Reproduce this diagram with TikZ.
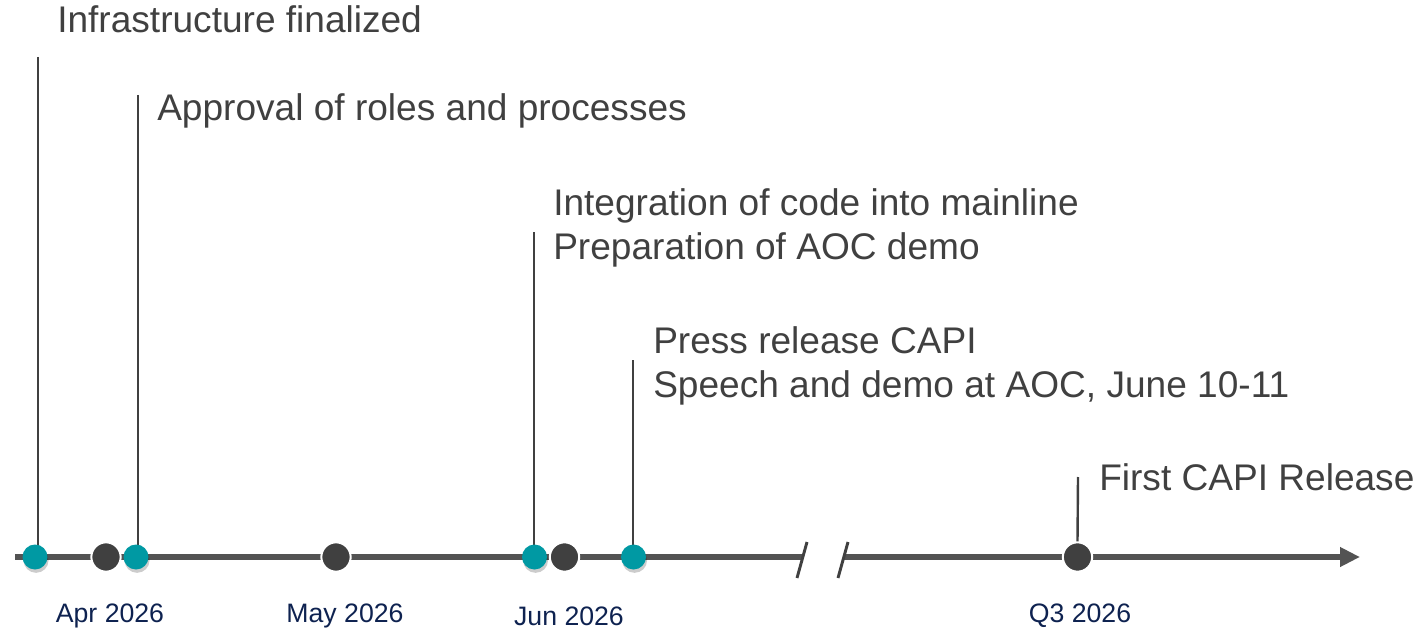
\documentclass[tikz,border=0pt]{standalone}
\usepackage{fontspec}
\setmainfont{Liberation Sans}
\usetikzlibrary{arrows.meta,shadows}
\definecolor{teal}{RGB}{0,153,163}
\definecolor{darkdot}{RGB}{64,64,64}
\definecolor{axisgray}{RGB}{83,83,83}
\definecolor{txtgray}{RGB}{64,64,64}
\definecolor{navy}{RGB}{14,34,80}
\begin{document}
\begin{tikzpicture}[x=0.75pt,y=-0.75pt,
  tealdot/.style={circle,fill=teal,inner sep=0pt,minimum size=18.75pt,
    drop shadow={shadow xshift=0.8pt,shadow yshift=-2.5pt,opacity=0.2,fill=black}},
  darkdotstyle/.style={circle,fill=darkdot,draw=white,line width=1.5pt,inner sep=0pt,minimum size=22pt},
  evlabel/.style={anchor=base west,inner sep=0pt,text=txtgray,font=\fontsize{27.8pt}{33pt}\selectfont,align=left},
  datelabel/.style={anchor=center,inner sep=0pt,text=navy,font=\fontsize{20pt}{22pt}\selectfont},
  stem/.style={draw=darkdot,line width=1.8pt},
  axisline/.style={draw=axisgray,line width=4.5pt},
  breakmark/.style={draw=darkdot,line width=2.2pt}]
\useasboundingbox (0,0) rectangle (1424,631);
% axis
\coordinate (axstart) at (15,557);
\coordinate (brk1) at (802,557);
\coordinate (brk2) at (843,557);
\coordinate (axend) at (1360,557);
\draw[axisline] (axstart) -- (brk1);
\draw[axisline,-{Triangle[length=15pt,width=14pt]}] (brk2) -- (axend);
\draw[breakmark] (807,542) -- (797,578);
\draw[breakmark] (848,542) -- (838,578);
% stems
\coordinate (t1) at (38,57);
\coordinate (t2) at (138,95);
\coordinate (t3) at (534,232);
\coordinate (t4) at (633,360);
\coordinate (t5) at (1078,477);
% dots
\node[darkdotstyle] (d1) at (106,557) {};
\node[darkdotstyle] (d2) at (336,557) {};
\node[darkdotstyle] (d3) at (564.5,557) {};
\node[darkdotstyle] (d4) at (1077.5,557) {};
\draw[stem] (t1) -- (38,557);
\draw[stem] (t2) -- (138,557);
\draw[stem] (t3) -- (534,557);
\draw[stem] (t4) -- (633,557);
\draw[stem] (t5) -- (d4.north);
\node[tealdot] (e1) at (35,557) {};
\node[tealdot] (e2) at (136,557) {};
\node[tealdot] (e3) at (534.5,557) {};
\node[tealdot] (e4) at (633.5,557) {};
% event labels
\node[evlabel] (l1) at (57,33) {Infrastructure finalized};
\node[evlabel] (l2) at (157,121) {Approval of roles and processes};
\node[evlabel] (l3) at (553,259) {Integration of code into mainline\\Preparation of AOC demo};
\node[evlabel] (l4) at (653,397) {Press release CAPI\\Speech and demo at AOC, June 10-11};
\node[evlabel] (l5) at (1099,490) {First CAPI Release};
% date labels
\node[datelabel] (m1) at (110,616) {Apr 2026};
\node[datelabel] (m2) at (345,616) {May 2026};
\node[datelabel] (m3) at (569,616) {Jun 2026};
\node[datelabel] (m4) at (1080,616) {Q3 2026};
\end{tikzpicture}
\end{document}
